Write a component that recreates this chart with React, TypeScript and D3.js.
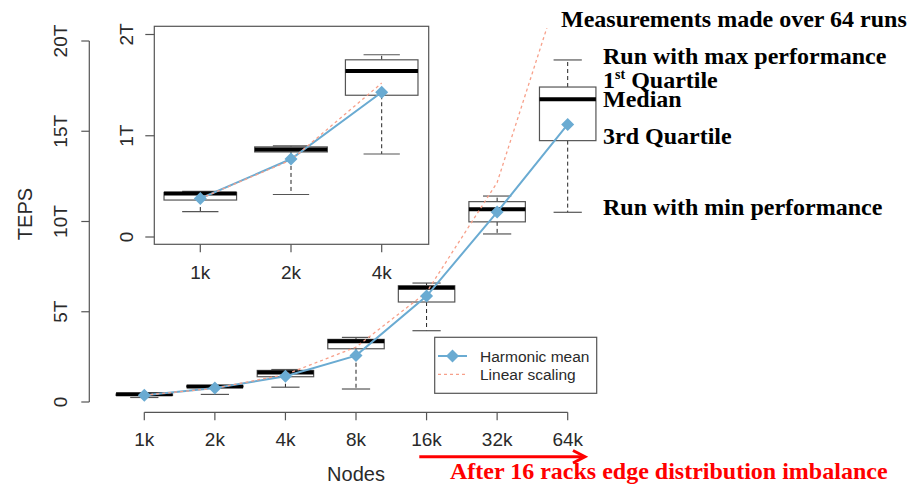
import React from "react";
import * as d3 from "d3";

const nodes = ["1k", "2k", "4k", "8k", "16k", "32k", "64k"];
const insetNodes = ["1k", "2k", "4k"];
const minRun = [0.25, 0.42, 0.82, 0.72, 3.95, 9.31, 10.51];
const lowerQ = [0.365, 0.84, 1.4, 2.95, 5.54, 9.98, 14.48];
const medianV = [0.43, 0.865, 1.64, 3.36, 6.33, 10.68, 16.77];
const upperQ = [0.44, 0.89, 1.75, 3.47, 6.44, 11.1, 17.45];
const maxRun = [0.45, 0.9, 1.8, 3.58, 6.59, 11.41, 18.95];
const harmonicMean = [0.38, 0.77, 1.43, 2.57, 5.87, 10.52, 15.38];
const linearScaling = [0.38, 0.76, 1.52, 3.04, 6.08, 12.16, 24.32];
const mainTicks = [0, 5, 10, 15, 20];
const mainTickLabels = ["0", "5T", "10T", "15T", "20T"];
const insetTicks = [0, 1, 2];
const insetTickLabels = ["0", "1T", "2T"];

const BLUE = "#6aabd2";
const SALMON = "#f7a08a";
const AX = "#555";
const TXT = "#2a2a2a";
const SANS = "'Liberation Sans', Arial, Helvetica, sans-serif";
const SERIF = "'Liberation Serif', 'Times New Roman', serif";

const diamond = (r: number) => `M0,${-r}L${r},0L0,${r}L${-r},0Z`;

function Boxes({ x, y, n, bw, keyp }: { x: any; y: any; n: number; bw: number; keyp: string }) {
  const items = [];
  for (let i = 0; i < n; i++) {
    const cx = x(i);
    items.push(
      <g key={keyp + i}>
        <line x1={cx} x2={cx} y1={y(upperQ[i])} y2={y(maxRun[i])} stroke="#222" strokeWidth={1} strokeDasharray="4,3" />
        <line x1={cx} x2={cx} y1={y(lowerQ[i])} y2={y(minRun[i])} stroke="#222" strokeWidth={1} strokeDasharray="4,3" />
        <line x1={cx - bw / 4} x2={cx + bw / 4} y1={y(maxRun[i])} y2={y(maxRun[i])} stroke={AX} strokeWidth={1.2} />
        <line x1={cx - bw / 4} x2={cx + bw / 4} y1={y(minRun[i])} y2={y(minRun[i])} stroke={AX} strokeWidth={1.2} />
        <rect x={cx - bw / 2} y={y(upperQ[i])} width={bw} height={y(lowerQ[i]) - y(upperQ[i])} fill="white" stroke={AX} strokeWidth={1.2} />
        <line x1={cx - bw / 2} x2={cx + bw / 2} y1={y(medianV[i])} y2={y(medianV[i])} stroke="#000" strokeWidth={4} />
      </g>
    );
  }
  return <g>{items}</g>;
}

function Lines({ x, y, n, keyp }: { x: any; y: any; n: number; keyp: string }) {
  const idx = d3.range(n);
  const meanLine = d3.line<number>().x((i) => x(i)).y((i) => y(harmonicMean[i]));
  const linLine = d3.line<number>().x((i) => x(i)).y((i) => y(linearScaling[i]));
  return (
    <g>
      <path d={meanLine(idx) || ""} fill="none" stroke={BLUE} strokeWidth={2} />
      <path d={linLine(idx) || ""} fill="none" stroke={SALMON} strokeWidth={1.3} strokeDasharray="3,3" />
      {idx.map((i) => (
        <path key={keyp + "d" + i} d={diamond(6.5)} transform={`translate(${x(i)},${y(harmonicMean[i])})`} fill={BLUE} />
      ))}
    </g>
  );
}

export default function App() {
  const W = 909;
  const H = 485;
  const x = d3.scaleLinear().domain([0, nodes.length - 1]).range([144.3, 567.7]);
  const y = d3.scaleLinear().domain([0, 20]).range([402, 41]);
  const xi = d3.scaleLinear().domain([0, insetNodes.length - 1]).range([200.3, 381.7]);
  const yi = d3.scaleLinear().domain([0, 2]).range([237, 34.5]);
  const bwMain = (x(1) - x(0)) * 0.8;
  const bwInset = (xi(1) - xi(0)) * 0.8;
  const xAxisY = 412.3;
  const yAxisX = 89.3;
  const insetL = 154.3, insetR = 428.7, insetT = 26.3, insetB = 244.3;

  return (
    <svg width={W} height={H} style={{ position: "absolute", left: 0, top: 0, background: "white" }} fontFamily={SANS}>
      <defs>
        <clipPath id="mainclip">
          <rect x={70} y={28} width={560} height={400} />
        </clipPath>
      </defs>
      {/* main y axis */}
      <line x1={yAxisX} x2={yAxisX} y1={y(0)} y2={y(20)} stroke={AX} strokeWidth={1.2} />
      {mainTicks.map((t, i) => (
        <g key={"yt" + t}>
          <line x1={yAxisX - 8} x2={yAxisX} y1={y(t)} y2={y(t)} stroke={AX} strokeWidth={1.2} />
          <text transform={`translate(67,${y(t)}) rotate(-90)`} textAnchor="middle" fontSize={19} fill={TXT}>
            {mainTickLabels[i]}
          </text>
        </g>
      ))}
      <text transform={`translate(31.5,214) rotate(-90)`} textAnchor="middle" fontSize={20} fill={TXT}>TEPS</text>
      {/* main x axis */}
      <line x1={x(0)} x2={x(nodes.length - 1)} y1={xAxisY} y2={xAxisY} stroke={AX} strokeWidth={1.2} />
      {nodes.map((nd, i) => (
        <g key={"xt" + nd}>
          <line x1={x(i)} x2={x(i)} y1={xAxisY} y2={xAxisY + 8} stroke={AX} strokeWidth={1.2} />
          <text x={x(i)} y={446} textAnchor="middle" fontSize={19} fill={TXT}>{nd}</text>
        </g>
      ))}
      <text x={356} y={481} textAnchor="middle" fontSize={20} fill={TXT}>Nodes</text>

      {/* main plot */}
      <Boxes x={x} y={y} n={nodes.length} bw={bwMain} keyp="m" />
      <g clipPath="url(#mainclip)">
        <Lines x={x} y={y} n={nodes.length} keyp="m" />
      </g>

      {/* legend */}
      <rect x={434.7} y={337.3} width={162} height={56} fill="white" stroke={AX} strokeWidth={1.2} />
      <line x1={438} x2={467} y1={356} y2={356} stroke={BLUE} strokeWidth={2} />
      <path d={diamond(6.5)} transform="translate(452.5,356)" fill={BLUE} />
      <line x1={438} x2={467} y1={374.3} y2={374.3} stroke={SALMON} strokeWidth={1.3} strokeDasharray="3,3" />
      <text x={480} y={361.5} fontSize={15.5} fill={TXT}>Harmonic mean</text>
      <text x={480} y={380} fontSize={15.5} fill={TXT}>Linear scaling</text>

      {/* inset */}
      <rect x={insetL} y={insetT} width={insetR - insetL} height={insetB - insetT} fill="white" stroke={AX} strokeWidth={1.2} />
      {insetTicks.map((t, i) => (
        <g key={"iyt" + t}>
          <line x1={insetL - 9} x2={insetL} y1={yi(t)} y2={yi(t)} stroke={AX} strokeWidth={1.2} />
          <text transform={`translate(133.3,${yi(t)}) rotate(-90)`} textAnchor="middle" fontSize={19} fill={TXT}>
            {insetTickLabels[i]}
          </text>
        </g>
      ))}
      {insetNodes.map((nd, i) => (
        <g key={"ixt" + nd}>
          <line x1={xi(i)} x2={xi(i)} y1={insetB} y2={insetB + 8} stroke={AX} strokeWidth={1.2} />
          <text x={xi(i)} y={279.3} textAnchor="middle" fontSize={19} fill={TXT}>{nd}</text>
        </g>
      ))}
      <Boxes x={xi} y={yi} n={insetNodes.length} bw={bwInset} keyp="i" />
      <Lines x={xi} y={yi} n={insetNodes.length} keyp="i" />

      {/* annotations */}
      <g fontFamily={SERIF} fontWeight="bold" fontSize={24} fill="#000">
        <text x={561} y={26.5}>Measurements made over 64 runs</text>
        <text x={603} y={64.3}>Run with max performance</text>
        <text x={603} y={88.3}>
          1<tspan fontSize={14} dy={-9}>st</tspan>
          <tspan dy={9}> Quartile</tspan>
        </text>
        <text x={603} y={106.7}>Median</text>
        <text x={603} y={144.3}>3rd Quartile</text>
        <text x={603} y={215}>Run with min performance</text>
        <text x={450} y={478.5} fill="#ff0000">After 16 racks edge distribution imbalance</text>
      </g>
      {/* red arrow */}
      <line x1={419.3} x2={583} y1={456.7} y2={456.7} stroke="#ff0000" strokeWidth={3} />
      <polyline points="573,450.5 585,456.7 573,463" fill="none" stroke="#ff0000" strokeWidth={3} />
    </svg>
  );
}
